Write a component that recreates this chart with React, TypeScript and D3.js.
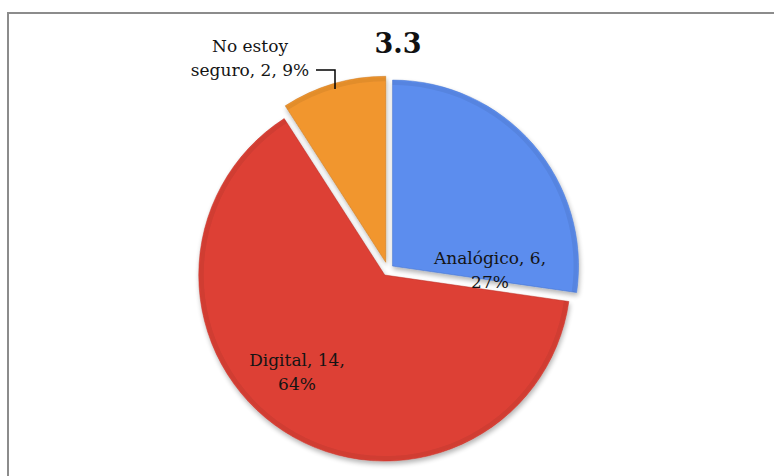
import React from "react";
import * as d3 from "d3";

const categories = ["Analógico", "Digital", "No estoy seguro"];
const counts = [6, 14, 2];
const percents = ["27%", "64%", "9%"];
const title = "3.3";

const W = 774;
const H = 476;
const CX = 388;
const CY = 270;
const R = 186;
const explode = [6, 6, 8];
const colors = ["#5C8DEE", "#DD4036", "#F1962F"];
const lightColors = ["#6D9BF3", "#E54E43", "#F5A444"];
const darkColors = ["#3F6FCB", "#B92D24", "#C8771F"];
const font = "'DejaVu Serif', serif";

export default function App() {
  const pie = d3.pie<number>().sort(null).startAngle(0).endAngle(2 * Math.PI);
  const arcs = pie(counts);
  const arc = d3.arc<d3.PieArcDatum<number>>().innerRadius(0).outerRadius(R);
  const rim = d3.arc<d3.PieArcDatum<number>>().innerRadius(R - 5).outerRadius(R - 1);

  const offset = (a: d3.PieArcDatum<number>, d: number) => {
    const m = (a.startAngle + a.endAngle) / 2;
    return [Math.sin(m) * d, -Math.cos(m) * d];
  };

  return (
    <svg width={W} height={H} style={{ position: "absolute", left: 0, top: 0 }}>
      <defs>
        {colors.map((c, i) => (
          <radialGradient
            key={i}
            id={`g${i}`}
            gradientUnits="userSpaceOnUse"
            cx={CX}
            cy={CY - R * 0.3}
            r={R * 1.3}
          >
            <stop offset="0%" stopColor={lightColors[i]} />
            <stop offset="60%" stopColor={c} />
            <stop offset="100%" stopColor={c} />
          </radialGradient>
        ))}
        <filter id="sh" x="-20%" y="-20%" width="140%" height="140%">
          <feGaussianBlur in="SourceAlpha" stdDeviation="2.5" />
          <feOffset dx="1" dy="3" result="b" />
          <feComponentTransfer>
            <feFuncA type="linear" slope="0.3" />
          </feComponentTransfer>
          <feMerge>
            <feMergeNode />
            <feMergeNode in="SourceGraphic" />
          </feMerge>
        </filter>
      </defs>
      <rect x={0} y={0} width={W} height={H} fill="#fff" />
      <rect x={8} y={13} width={W + 20} height={H + 20} fill="#fff" stroke="#8c8c8c" strokeWidth={2} />

      {arcs.map((a, i) => {
        const [dx, dy] = offset(a, explode[i]);
        return (
          <g key={i} transform={`translate(${CX + dx},${CY + dy})`} filter="url(#sh)">
            <path d={arc(a) || ""} fill={`url(#g${i})`} stroke={darkColors[i]} strokeWidth={1} strokeOpacity={0.5} />
            <path d={rim(a) || ""} fill="#000" opacity={0.06} />
          </g>
        );
      })}

      <text fontFamily={font} fontSize={17} fill="#141414" textAnchor="middle">
        <tspan x={CX + 102} y={CY - 6}>{`${categories[0]}, ${counts[0]},`}</tspan>
        <tspan x={CX + 102} y={CY + 18}>{percents[0]}</tspan>
      </text>

      <text fontFamily={font} fontSize={17} fill="#141414" textAnchor="middle">
        <tspan x={CX - 91} y={CY + 96}>{`${categories[1]}, ${counts[1]},`}</tspan>
        <tspan x={CX - 91} y={CY + 120}>{percents[1]}</tspan>
      </text>

      <text fontFamily={font} fontSize={17} fill="#141414" textAnchor="middle">
        <tspan x={250} y={52}>No estoy</tspan>
        <tspan x={250} y={76}>{`seguro, ${counts[2]}, ${percents[2]}`}</tspan>
      </text>
      <path d="M316,70 H335 V89" fill="none" stroke="#000" strokeWidth={1.5} />

      <text x={398} y={53} fontFamily={font} fontSize={27} fontWeight="bold" fill="#111" textAnchor="middle">
        {title}
      </text>
    </svg>
  );
}
